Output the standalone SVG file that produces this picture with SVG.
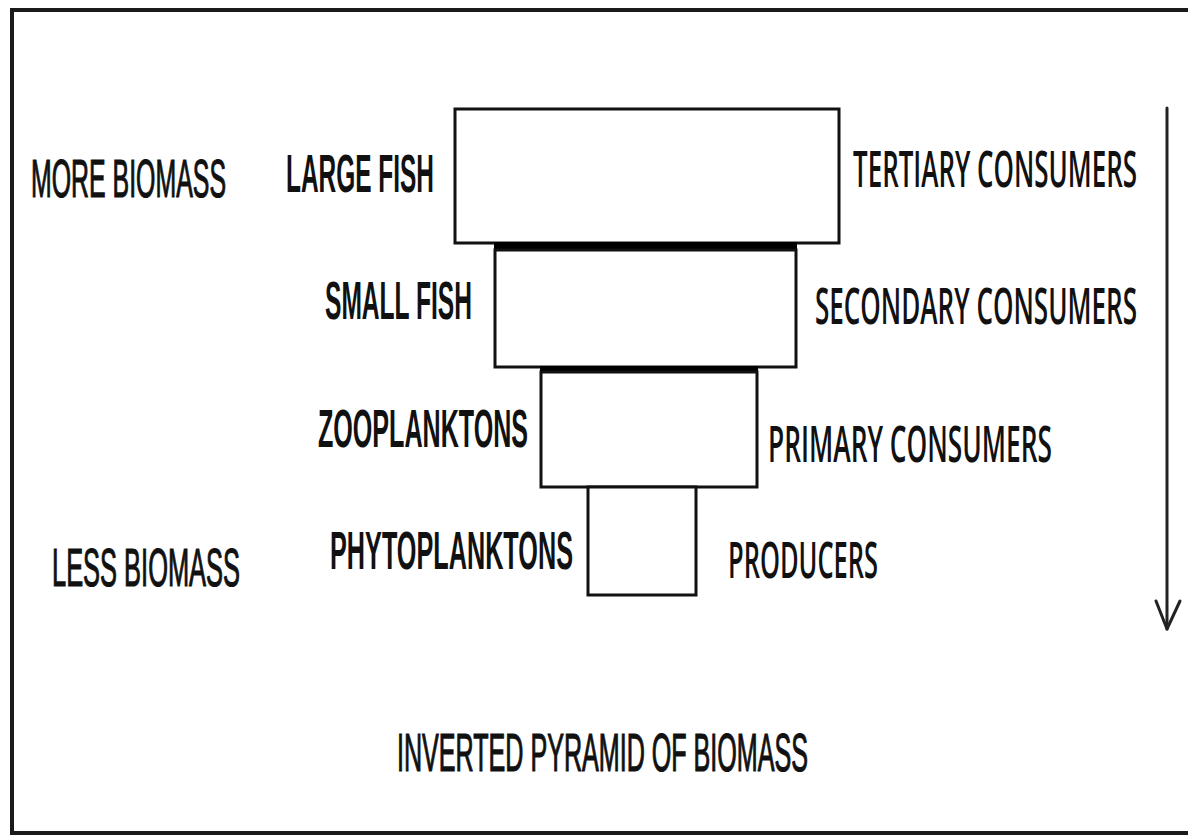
<svg xmlns="http://www.w3.org/2000/svg" width="1188" height="839" viewBox="0 0 1188 839">
  <style>
    .frame { fill: none; stroke: #1a1a1a; stroke-width: 4; }
    .tier { fill: #ffffff; stroke: #111111; stroke-width: 3; }
    .band { fill: #000000; }
    .lbl { font-family: "Liberation Sans", Arial, sans-serif; font-size: 53px; fill: #111111; stroke: #111111; stroke-width: 1.2; }
    .lbl-b { font-family: "Liberation Sans", Arial, sans-serif; font-size: 54px; font-weight: bold; fill: #111111; }
    .role { font-family: "Open Sans", "Noto Sans", sans-serif; font-size: 51px; font-weight: 600; fill: #111111; }
    .arrow { fill: none; stroke: #222222; stroke-width: 3; stroke-linecap: round; stroke-linejoin: round; }
  </style>

  <rect width="1188" height="839" fill="#ffffff"/>

  <!-- outer frame (open on the right) -->
  <path class="frame" d="M1190,10 H12 V833 H1190"/>

  <!-- side captions: condensed by a horizontal half-scale -->
  <g id="more-biomass">
    <text class="lbl" transform="translate(31,197) scale(0.5,1)" textLength="390" lengthAdjust="spacingAndGlyphs">MORE BIOMASS</text>
  </g>
  <g id="less-biomass">
    <text class="lbl" transform="translate(52,586) scale(0.5,1)" textLength="376" lengthAdjust="spacingAndGlyphs">LESS BIOMASS</text>
  </g>

  <!-- tier 1: tertiary consumers -->
  <g id="tier-large-fish">
    <rect class="tier" x="455" y="109" width="384" height="134"/>
    <text class="lbl-b" transform="translate(286,192) scale(0.5,1)" textLength="296" lengthAdjust="spacingAndGlyphs">LARGE FISH</text>
    <text class="role" transform="translate(853,187) scale(0.5,1)" textLength="568" lengthAdjust="spacingAndGlyphs">TERTIARY CONSUMERS</text>
  </g>

  <!-- tier 2: secondary consumers -->
  <g id="tier-small-fish">
    <rect class="band" x="494" y="242" width="303" height="9"/>
    <rect class="tier" x="495" y="250" width="301" height="117"/>
    <text class="lbl-b" transform="translate(325,319) scale(0.5,1)" textLength="294" lengthAdjust="spacingAndGlyphs">SMALL FISH</text>
    <text class="role" transform="translate(815,324) scale(0.5,1)" textLength="644" lengthAdjust="spacingAndGlyphs">SECONDARY CONSUMERS</text>
  </g>

  <!-- tier 3: primary consumers -->
  <g id="tier-zooplanktons">
    <rect class="band" x="540" y="366" width="218" height="7"/>
    <rect class="tier" x="541" y="372" width="216" height="115"/>
    <text class="lbl-b" transform="translate(318,447) scale(0.5,1)" textLength="420" lengthAdjust="spacingAndGlyphs">ZOOPLANKTONS</text>
    <text class="role" transform="translate(768,462) scale(0.5,1)" textLength="568" lengthAdjust="spacingAndGlyphs">PRIMARY CONSUMERS</text>
  </g>

  <!-- tier 4: producers -->
  <g id="tier-phytoplanktons">
    <rect class="tier" x="588" y="487" width="108" height="108"/>
    <text class="lbl-b" transform="translate(330,569) scale(0.5,1)" textLength="486" lengthAdjust="spacingAndGlyphs">PHYTOPLANKTONS</text>
    <text class="role" transform="translate(728,578) scale(0.5,1)" textLength="300" lengthAdjust="spacingAndGlyphs">PRODUCERS</text>
  </g>

  <!-- direction arrow -->
  <g id="connectors">
    <path class="arrow" d="M1167,108 V629"/>
    <path class="arrow" d="M1156,601 L1167,629 L1180,601"/>
  </g>

  <!-- title -->
  <g id="title">
    <text class="lbl" transform="translate(397,771) scale(0.5,1)" textLength="822" lengthAdjust="spacingAndGlyphs">INVERTED PYRAMID OF BIOMASS</text>
  </g>
</svg>
